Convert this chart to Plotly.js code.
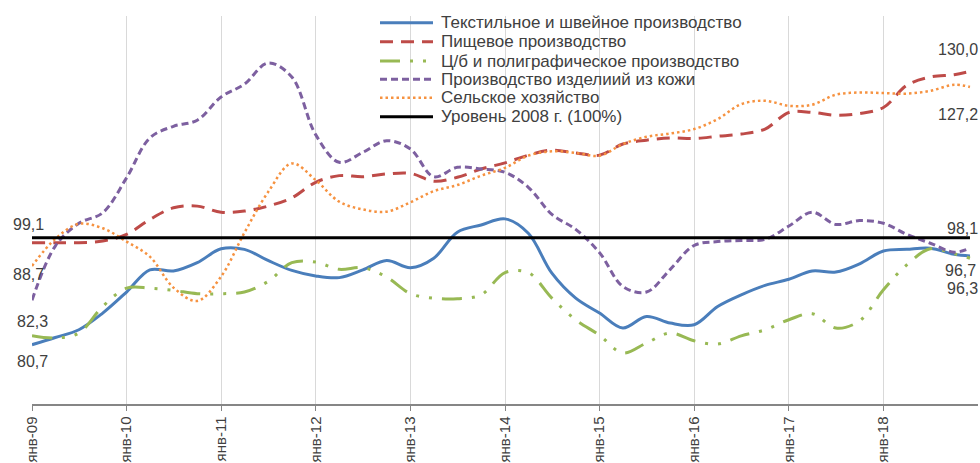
<!DOCTYPE html>
<html><head><meta charset="utf-8">
<script src="https://cdn.plot.ly/plotly-3.0.1.min.js"></script>
<style>html,body{margin:0;padding:0;background:#fff}</style>
</head><body><div id="chart" style="width:980px;height:463px"></div>
<script>
const dates = [
 '2009-01-01','2009-04-01','2009-07-01','2009-10-01',
 '2010-01-01','2010-04-01','2010-07-01','2010-10-01',
 '2011-01-01','2011-04-01','2011-07-01','2011-10-01',
 '2012-01-01','2012-04-01','2012-07-01','2012-10-01',
 '2013-01-01','2013-04-01','2013-07-01','2013-10-01',
 '2014-01-01','2014-04-01','2014-07-01','2014-10-01',
 '2015-01-01','2015-04-01','2015-07-01','2015-10-01',
 '2016-01-01','2016-04-01','2016-07-01','2016-10-01',
 '2017-01-01','2017-04-01','2017-07-01','2017-10-01',
 '2018-01-01','2018-04-01','2018-07-01','2018-10-01','2018-12-01'];

const textile = [80.7, 82.0, 83.4, 86.4, 90.2, 94.2, 94.0, 95.5, 98.0, 97.9, 95.9, 94.1, 93.1, 92.8, 94.2, 95.9, 94.6, 96.3, 101.0, 102.3, 103.4, 100.8, 93.6, 89.1, 86.4, 83.7, 85.8, 84.6, 84.3, 87.6, 89.7, 91.4, 92.5, 94.0, 93.8, 95.3, 97.6, 97.9, 98.1, 97.0, 96.7];
const food = [99.1, 99.1, 99.1, 99.4, 100.6, 103.3, 105.4, 105.7, 104.6, 104.8, 105.7, 107.2, 110.0, 111.2, 111.0, 111.5, 111.6, 110.2, 110.9, 112.4, 113.5, 114.9, 115.8, 115.3, 114.9, 116.9, 117.6, 118.0, 117.9, 118.3, 118.7, 119.6, 122.6, 122.6, 122.1, 122.4, 123.5, 127.5, 129.0, 129.4, 130.0];
const paper = [82.3, 81.9, 82.8, 87.6, 90.9, 90.9, 90.5, 89.9, 89.9, 90.2, 92.1, 95.5, 95.6, 94.3, 94.6, 92.9, 89.9, 89.1, 89.0, 89.7, 93.7, 93.7, 89.1, 85.2, 82.4, 79.2, 81.0, 82.8, 81.4, 80.8, 82.3, 83.4, 85.2, 86.3, 83.7, 85.0, 90.6, 95.1, 98.0, 97.1, 96.3];
const leather = [88.7, 98.5, 102.6, 104.5, 110.8, 118.0, 120.1, 121.2, 125.4, 127.7, 131.5, 129.0, 118.6, 113.6, 115.4, 117.5, 116.0, 111.0, 112.7, 112.4, 111.8, 109.1, 104.2, 101.5, 97.3, 91.2, 90.2, 94.3, 98.6, 99.3, 99.5, 99.7, 102.1, 104.6, 102.4, 103.1, 102.6, 100.6, 99.0, 97.4, 98.1];
const agriculture = [94.9, 99.8, 102.5, 101.7, 99.3, 96.6, 91.0, 88.6, 93.0, 100.9, 108.2, 113.4, 110.4, 106.5, 105.1, 104.7, 106.4, 108.4, 109.5, 111.2, 112.6, 114.8, 115.6, 115.3, 114.8, 116.9, 118.2, 118.8, 119.6, 121.4, 124.1, 124.7, 123.8, 124.0, 125.8, 126.2, 126.1, 126.0, 126.5, 127.6, 127.2];
const levelDates = ['2009-01-01','2018-12-01'];
const level2008 = [100, 100];

const seriesNames = ['Текстильное и швейное производство','Пищевое производство','Ц/б и полиграфическое производство','Производство изделиий из кожи','Сельское хозяйство','Уровень 2008 г. (100%)'];
const tickDates = ['2009-01-01','2010-01-01','2011-01-01','2012-01-01','2013-01-01','2014-01-01','2015-01-01','2016-01-01','2017-01-01','2018-01-01'];
const tickLabels = ['янв-09','янв-10','янв-11','янв-12','янв-13','янв-14','янв-15','янв-16','янв-17','янв-18'];

const FONT = '"Liberation Sans", Arial, sans-serif';
const styles = [
  {color: '#4A7EBB', dash: 'solid', width: 3},
  {color: '#BE4B48', dash: '13px,8px', width: 3},
  {color: '#98B954', dash: '20px,10px,3px,10px,3px,10px', width: 3},
  {color: '#7D60A0', dash: '7px,4px', width: 3},
  {color: '#F69240', dash: '2.5px,3px', width: 2.5},
  {color: '#000000', dash: 'solid', width: 3}
];
const seriesData = [textile, food, paper, leather, agriculture];
const traces = seriesData.map((y, i) => ({
  x: dates, y: y, name: seriesNames[i], type: 'scatter', mode: 'lines',
  line: {color: styles[i].color, width: styles[i].width, dash: styles[i].dash, shape: 'spline', smoothing: 1},
  hoverinfo: 'skip'
}));
traces.push({x: levelDates, y: level2008, name: seriesNames[5], type: 'scatter', mode: 'lines',
  line: {color: styles[5].color, width: styles[5].width}, hoverinfo: 'skip'});

function fmt(v) { return v.toFixed(1).replace('.', ','); }
function first(a) { return a[0]; }
function last(a) { return a[a.length - 1]; }
// pixel helpers for placement (plot area: left 32, width 946, top 16, height 388)
function px(x) { return (x - 32) / 946; }
function py(y) { return (404 - y) / 388; }
const labelSpecs = [
  [fmt(first(food)), 28, 224],
  [fmt(first(leather)), 28, 274],
  [fmt(first(paper)), 32.5, 321],
  [fmt(first(textile)), 32.5, 361],
  [fmt(last(food)), 957.5, 49],
  [fmt(last(agriculture)), 957.5, 114],
  [fmt(last(leather)), 962, 228],
  [fmt(last(textile)), 960, 270],
  [fmt(last(paper)), 962, 288]
];
const annotations = labelSpecs.map(s => ({
  text: s[0], xref: 'paper', yref: 'paper', x: px(s[1]), y: py(s[2]),
  xanchor: 'center', yanchor: 'middle', showarrow: false,
  font: {family: FONT, size: 16, color: '#404040'}
}));

// legend (drawn with shapes + text so sample length and row spacing match)
const legendRows = [22.7, 41.7, 61, 79.3, 97.7, 116.7];
const shapes = [];
seriesNames.forEach((name, i) => {
  shapes.push({type: 'line', xref: 'paper', yref: 'paper',
    x0: px(380), x1: px(433), y0: py(legendRows[i]), y1: py(legendRows[i]),
    line: {color: styles[i].color, width: styles[i].width, dash: styles[i].dash}});
  annotations.push({text: name, xref: 'paper', yref: 'paper', x: px(439), y: py(legendRows[i]),
    xanchor: 'left', yanchor: 'middle', showarrow: false,
    font: {family: FONT, size: 17, color: '#404040'}});
});

const layout = {
  width: 980, height: 463,
  margin: {l: 32, r: 2, t: 16, b: 59},
  paper_bgcolor: '#ffffff', plot_bgcolor: '#ffffff',
  font: {family: FONT, color: '#404040'},
  showlegend: false,
  xaxis: {type: 'date', range: ['2009-01-01', '2019-01-01'],
    tickmode: 'array', tickvals: tickDates, ticktext: tickLabels, tickangle: -90,
    ticks: 'outside', ticklen: 5, tickcolor: '#868686', tickwidth: 1,
    showline: true, linecolor: '#868686', linewidth: 1.5,
    showgrid: true, gridcolor: '#d9d9d9', gridwidth: 1, zeroline: false,
    tickfont: {family: FONT, size: 15, color: '#404040'}, fixedrange: true},
  yaxis: {range: [70, 140], visible: false, showgrid: false, zeroline: false, fixedrange: true},
  annotations: annotations,
  shapes: shapes
};
Plotly.newPlot('chart', traces, layout, {displayModeBar: false, staticPlot: true});
</script>
</body></html>
